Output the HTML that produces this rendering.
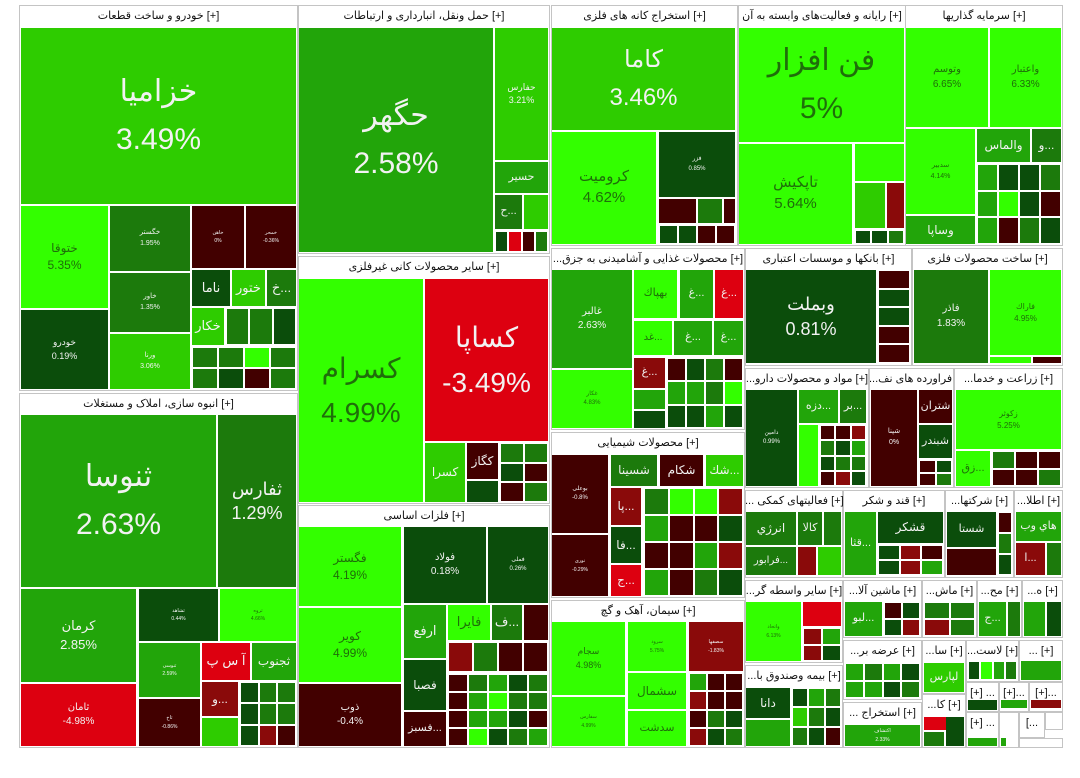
<!DOCTYPE html>
<html><head><meta charset="utf-8">
<style>
html,body{margin:0;padding:0;background:#fff;width:1080px;height:778px;overflow:hidden}
#m{position:relative;width:1080px;height:778px;font-family:"Liberation Sans","DejaVu Sans",sans-serif}
.s{position:absolute;background:#fff;border:1px solid #c4c4c4;box-sizing:border-box}
.h{position:absolute;font-size:11px;color:#111;text-align:center;white-space:nowrap;overflow:hidden;line-height:22px}
.t{position:absolute;display:flex;flex-direction:column;align-items:center;justify-content:center;overflow:hidden;text-align:center;white-space:nowrap;color:#fff;line-height:1.25}
</style></head><body><div id="m"></div>
<script>
var m=document.getElementById('m');
var C={L:'#33ff00',G1:'#2ecc00',G2:'#22a50a',G3:'#1c7a0c',D:'#0b4d0b',R:'#420000',RR:'#8a0a0a',RED:'#dd0010'};
function S(x1,y1,x2,y2,title,hh){var d=document.createElement('div');d.className='s';d.style.cssText='left:'+x1+'px;top:'+y1+'px;width:'+(x2-x1)+'px;height:'+(y2-y1)+'px';m.appendChild(d);
var h=document.createElement('div');h.className='h';h.style.cssText='left:'+x1+'px;top:'+y1+'px;width:'+(x2-x1)+'px;height:'+(hh||23)+'px';h.textContent=title;m.appendChild(h);}
function T(x1,y1,x2,y2,c,lab,pct,fs){var d=document.createElement('div');d.className='t';
d.style.cssText='left:'+x1+'px;top:'+y1+'px;width:'+(x2-x1)+'px;height:'+(y2-y1)+'px;background:'+C[c]+';color:'+(c=='L'?'#1f6e0a':'#f2f2f2')+';font-size:'+(fs||6)+'px';
if(lab){var a=document.createElement('div');a.textContent=lab;d.appendChild(a);}
if(pct){var b=document.createElement('div');b.textContent=pct;b.style.marginTop=(fs>20?fs*0.35:2)+'px';d.appendChild(b);}
m.appendChild(d);}
function G(x1,y1,x2,y2,nx,ny,cols){var w=(x2-x1)/nx,h=(y2-y1)/ny,k=0;for(var j=0;j<ny;j++)for(var i=0;i<nx;i++){T(Math.round(x1+i*w)+1,Math.round(y1+j*h)+1,Math.round(x1+(i+1)*w)-1,Math.round(y1+(j+1)*h)-1,cols[k%cols.length]);k++;}}
var mix=['G3','D','G2','R','D','G3','L','RR','G2','D'];
// Auto
S(19,5,298,391,'خودرو و ساخت قطعات [+]');
T(21,28,296,204,'G1','خزامیا','3.49%',30);
T(21,206,108,308,'L','ختوقا','5.35%',12);
T(21,310,108,389,'D','خودرو','0.19%',9);
T(110,206,190,271,'G3','خگستر','1.95%',7);
T(110,273,190,332,'G3','خاور','1.35%',7);
T(110,334,190,389,'G1','ورنا','3.06%',7);
T(192,206,244,268,'R','خاهن','0%',5);
T(246,206,296,268,'R','خمحر','-0.36%',5);
T(192,270,230,306,'D','ناما','',13);
T(232,270,265,306,'G1','ختور','',13);
T(267,270,296,306,'G3','خ...','',13);
T(192,308,224,345,'G1','خكار','',13);
G(226,308,296,345,3,1,['G3','G3','D']);
G(192,347,296,389,4,2,['G3','G3','L','G3','G3','D','R','G3']);
// Transport
S(298,5,550,254,'حمل ونقل، انبارداری و ارتباطات [+]');
T(299,28,493,252,'G2','حگهر','2.58%',30);
T(495,28,548,160,'G1','حفارس','3.21%',9);
T(495,162,548,193,'G2','حسير','',11);
T(495,195,522,229,'G3','ح...','',11);
T(524,195,548,229,'G1');
G(495,231,548,252,4,1,['D','RED','R','G3']);
// Non-metal
S(298,256,550,504,'سایر محصولات کانی غیرفلزی [+]');
T(299,279,423,502,'L','كسرام','4.99%',28);
T(425,279,548,441,'RED','كساپا','-3.49%',28);
T(425,443,465,502,'G1','كسرا','',12);
T(467,443,498,479,'R','كگاز','',12);
T(467,481,498,502,'D');
G(500,443,548,502,2,3,['G3','G3','D','R','R','G3']);
// Housing
S(19,393,298,748,'انبوه سازی، املاک و مستغلات [+]');
T(21,415,216,587,'G2','ثنوسا','2.63%',30);
T(218,415,296,587,'G3','ثفارس','1.29%',18);
T(21,589,136,682,'G2','كرمان','2.85%',13);
T(21,684,136,746,'RED','ثامان','-4.98%',10);
T(139,589,218,641,'D','ثشاهد','0.44%',5);
T(220,589,296,641,'L','ثروه','4.66%',5);
T(139,643,200,697,'G2','ثنوسی','2.59%',5);
T(202,643,250,680,'RED','آ س پ','',13);
T(252,643,296,680,'G2','ثجنوب','',12);
T(139,699,200,746,'R','ثاخ','-0.86%',5);
T(202,682,238,716,'RR','و...','',12);
T(202,718,238,746,'G1');
G(240,682,296,746,3,3,['D','G3','G3','D','G3','G3','D','RR','R']);
// Basic metals
S(298,505,550,748,'فلزات اساسی [+]');
T(299,527,401,606,'L','فگستر','4.19%',12);
T(299,608,401,682,'L','كوير','4.99%',12);
T(299,684,401,746,'R','ذوب','-0.4%',10);
T(404,527,486,603,'D','فولاد','0.18%',10);
T(488,527,548,603,'D','فملی','0.26%',6);
T(404,605,446,658,'G2','ارفع','',13);
T(448,605,490,640,'L','فايرا','',13);
T(492,605,522,640,'G3','ف...','',13);
T(524,605,548,640,'R');
T(404,660,446,710,'D','فصبا','',12);
T(404,712,446,746,'R','فسبز...','',11);
G(448,642,548,672,4,1,['RR','G3','R','R']);
G(448,674,548,746,5,4,['R','G3','G2','D','G3','R','G2','L','G3','G3','R','G2','G2','D','R','R','L','D','G3','G2']);
// Mining
S(551,5,738,246,'استخراج کانه های فلزی [+]');
T(552,28,735,130,'G1','كاما','3.46%',24);
T(552,132,656,244,'L','كروميت','4.62%',15);
T(659,132,735,197,'D','فزر','0.85%',6);
T(659,199,696,223,'R');T(698,199,722,223,'G3');T(724,199,735,223,'R');
G(659,225,735,244,4,1,['D','D','R','R']);
// IT
S(738,5,906,246,'رایانه و فعالیت‌های وابسته به آن [+]');
T(739,28,904,142,'L','فن افزار','5%',30);
T(739,144,852,244,'L','تاپكيش','5.64%',15);
T(855,144,904,181,'L');
T(855,183,885,228,'G1');T(887,183,904,228,'RR');
G(855,230,904,244,3,1,['D','D','G3']);
// Investment
S(905,5,1063,246,'سرمایه گذاریها [+]');
T(906,28,988,127,'L','وتوسم','6.65%',10);
T(990,28,1061,127,'L','واعتبار','6.33%',10);
T(906,129,975,214,'L','سدبير','4.14%',7);
T(906,216,975,244,'G2','وساپا','',12);
T(977,129,1030,162,'G2','والماس','',12);
T(1032,129,1061,162,'G3','و...','',12);
G(977,164,1061,244,4,3,['G2','D','D','G3','G2','L','D','R','G2','R','G3','D']);
// Food
S(551,248,745,430,'...محصولات غذایی و آشامیدنی به جزق [+]');
T(552,270,632,368,'G2','غالبر','2.63%',10);
T(552,370,632,428,'L','غكار','4.83%',6);
T(634,270,677,318,'L','بهپاك','',11);
T(680,270,713,318,'G2','غ...','',11);
T(715,270,743,318,'RED','غ...','',11);
T(634,321,672,355,'L','غد...','',10);
T(674,321,712,355,'G2','غ...','',11);
T(714,321,743,355,'G2','غ...','',11);
T(634,358,665,388,'RR','غ...','',11);
G(667,358,743,428,4,3,['R','D','G3','R','G2','G2','G3','L','D','D','G2','D']);
T(634,390,665,409,'G2');T(634,411,665,428,'D');
// Chemical
S(551,432,745,598,'محصولات شیمیایی [+]');
T(552,455,608,533,'R','بوعلی','-0.8%',6);
T(552,535,608,596,'R','نوری','-0.29%',5);
T(611,455,657,486,'G3','شسينا','',12);
T(660,455,703,486,'R','شكام','',12);
T(706,455,743,486,'G1','شك...','',12);
T(611,488,641,525,'RR','پا...','',12);
T(611,527,641,563,'D','فا...','',12);
T(611,565,641,596,'RED','ج...','',12);
G(644,488,743,596,4,4,['G3','L','L','RR','G2','R','R','D','R','R','G2','RR','G2','R','G3','D']);
// Cement
S(551,600,745,748,'سیمان، آهک و گچ [+]');
T(552,622,625,695,'L','سجام','4.98%',9);
T(552,697,625,746,'L','سفارس','4.99%',5);
T(628,622,686,671,'L','سرود','5.75%',5);
T(689,622,743,671,'RR','سصفها','-1.83%',5);
T(628,673,686,709,'L','سشمال','',12);
T(628,711,686,746,'L','سدشت','',11);
G(689,673,743,746,3,4,['G2','R','R','RR','R','R','R','G3','D','RR','D','G3']);
// Banks
S(745,248,912,366,'بانکها و موسسات اعتباری [+]');
T(746,270,876,363,'D','وبملت','0.81%',18);
G(878,270,910,363,1,5,['R','D','D','R','R']);
// Metal products
S(912,248,1063,366,'ساخت محصولات فلزی [+]');
T(914,270,988,363,'G3','فاذر','1.83%',10);
T(990,270,1061,355,'L','فاراك','4.95%',8);
T(990,357,1031,363,'L');T(1033,357,1061,363,'R');
// Pharma
S(745,368,869,488,'...مواد و محصولات دارو [+]');
T(746,390,797,486,'D','دامين','0.99%',6);
T(799,390,838,423,'G2','دزه...','',11);
T(840,390,866,423,'G3','بر...','',11);
T(799,425,818,486,'L');
G(820,425,866,486,3,4,['R','R','RR','G3','D','G2','D','G3','G3','R','RR','D']);
// Petro
S(869,368,954,488,'...فراورده های نف [+]');
T(871,390,917,486,'R','شپنا','0%',7);
T(919,390,952,423,'R','شتران','',11);
T(919,425,952,458,'D','شبندر','',11);
G(919,460,952,486,2,2,['R','D','R','G3']);
// Agri
S(954,368,1063,488,'...زراعت و خدما [+]');
T(956,390,1061,449,'L','زكوثر','5.25%',8);
T(956,451,990,486,'L','زق...','',11);
G(992,451,1061,486,3,2,['G3','R','R','R','R','G3']);
// Row 490
S(745,490,843,578,'... فعالیتهای کمکی [+]');
T(746,512,796,545,'G3','انرژي','',12);T(798,512,822,545,'G3','كالا','',11);T(824,512,841,545,'G3');
T(746,547,796,575,'G3','فرابور...','',10);T(798,547,816,575,'RR');T(818,547,841,575,'G1');
S(843,490,945,578,'قند و شکر [+]');
T(845,512,876,575,'G2','قثا...','',11);T(878,512,943,543,'D','قشكر','',12);
G(878,545,943,575,3,2,['D','RR','R','D','RR','G2']);
S(945,490,1014,578,'...شرکتها [+]');
T(947,512,996,547,'D','شستا','',11);T(947,549,996,575,'R');G(998,512,1012,575,1,3,['R','G3','D']);
S(1014,490,1063,578,'...اطلا [+]');
T(1016,512,1061,541,'G2','هاي وب','',11);T(1016,543,1045,575,'RR','ا...','',11);T(1047,543,1061,575,'G3');
// Row 580
S(745,580,843,663,'...سایر واسطه گر [+]');
T(746,602,801,661,'L','واتحاد','6.13%',5);T(803,602,841,626,'RED');
G(803,628,841,661,2,2,['RR','G2','RR','D']);
S(843,580,922,638,'...ماشین آلا [+]');
T(845,602,882,636,'G2','لبو...','',11);G(884,602,920,636,2,2,['R','D','D','RR']);
S(922,580,977,638,'...ماش [+]');G(924,602,975,636,2,2,['G3','G3','RR','G3']);
S(977,580,1022,638,'...مح [+]');T(979,602,1006,636,'G2','ج...','',11);T(1008,602,1020,636,'G3');
S(1022,580,1063,638,'...ه [+]');T(1024,602,1045,636,'G2');T(1047,602,1061,636,'D');
// Row 640
S(745,665,843,748,'...بیمه وصندوق با [+]');
T(746,688,790,718,'D','دانا','',12);T(746,720,790,746,'G2');
G(792,688,841,746,3,3,['D','G2','G3','G1','G3','D','G3','D','R']);
S(843,640,922,700,'...عرضه بر [+]');G(845,663,920,698,4,2,['G2','G3','G2','D','G2','G2','D','G3']);
S(843,702,922,748,'... استخراج [+]');T(845,725,920,746,'G2','اكتشاف','2.33%',5);
S(922,640,966,694,'...سا [+]');T(924,663,964,692,'G1','لپارس','',11);
S(922,694,966,748,'...كا [+]');T(924,717,964,730,'RED');T(924,732,944,746,'G3');T(946,717,964,746,'D');
S(966,640,1019,682,'...لاست [+]');G(968,661,1017,680,4,1,['D','L','G2','G3']);
S(1019,640,1063,682,'... [+]');T(1021,661,1061,680,'G2');
S(966,682,999,712,'[+] ...');T(968,700,997,710,'D');
S(999,682,1029,712,'[+]...');T(1001,700,1027,708,'G2');
S(1029,682,1063,712,'[+]...');T(1031,700,1061,708,'RR');
S(966,712,999,748,'[+] ...');T(968,738,997,746,'G2');
S(999,712,1019,748,'');T(1001,738,1006,746,'G2');
S(1019,712,1045,738,'[...');S(1045,712,1063,730,'');S(1019,738,1063,748,'');
</script></body></html>
